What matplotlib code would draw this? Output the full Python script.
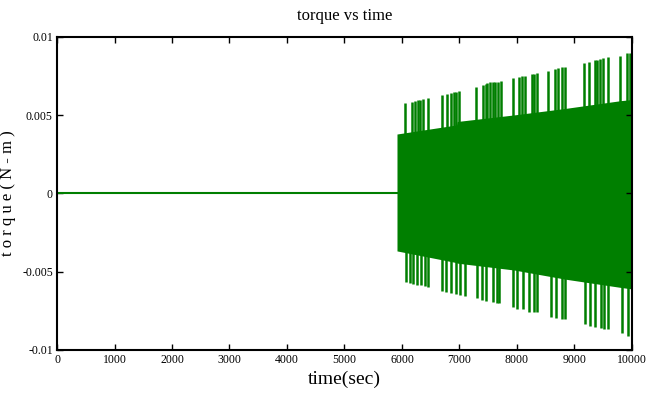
import matplotlib
matplotlib.use("Agg")
import matplotlib.pyplot as plt
import numpy as np

plt.rcParams['font.family'] = ['Liberation Serif', 'DejaVu Serif']

green = '#007f00'

# flat part before the disturbance
flat_t = [0, 5913]
flat_v = [0, 0]

# inner band of the oscillation
band_t  = [5913, 6950, 6960, 7950, 8850, 9800, 10000]
band_hi = [0.0038, 0.00438, 0.0046, 0.00502, 0.00544, 0.00593, 0.0060]
band_lo = [-0.00367, -0.00442, -0.00445, -0.00489, -0.00548, -0.00600, -0.00610]

# upper spikes: time, peak
up_t = [6052, 6174, 6226, 6270, 6313, 6365, 6452, 6696, 6783, 6852, 6900, 6939, 6991,
        7287, 7409, 7461, 7478, 7530, 7580, 7617, 7670, 7722, 7930, 8035, 8090, 8139,
        8261, 8300, 8348, 8539, 8661, 8720, 8783, 8835, 9165, 9252, 9357, 9400, 9443,
        9496, 9583, 9791, 9913, 9960, 10000]
up_v = [0.00576, 0.00587, 0.00593, 0.00595, 0.00597, 0.00604, 0.00608, 0.00629, 0.00636,
        0.00644, 0.00648, 0.00651, 0.00657, 0.00683, 0.00693, 0.00700, 0.00708, 0.00710,
        0.00713, 0.00715, 0.00715, 0.00718, 0.00736, 0.00746, 0.00750, 0.00753, 0.00764,
        0.00766, 0.00768, 0.00781, 0.00794, 0.00800, 0.00806, 0.00810, 0.00836, 0.00842,
        0.00853, 0.00855, 0.00857, 0.00864, 0.00870, 0.00881, 0.00896, 0.00898, 0.00900]

# lower spikes: time, trough
dn_t = [6070, 6139, 6197, 6256, 6325, 6400, 6457, 6690, 6760, 6847, 6939, 7009, 7096,
        7299, 7386, 7461, 7577, 7647, 7692, 7936, 8005, 8110, 8214, 8296, 8343, 8586,
        8678, 8777, 8835, 9183, 9270, 9357, 9456, 9513, 9588, 9821, 9936]
dn_v = [-0.00563, -0.00570, -0.00578, -0.00585, -0.00585, -0.00591, -0.00600, -0.00621,
        -0.00627, -0.00638, -0.00642, -0.00649, -0.00655, -0.00670, -0.00681, -0.00685,
        -0.00693, -0.00698, -0.00702, -0.00727, -0.00736, -0.00740, -0.00755, -0.00759,
        -0.00759, -0.00787, -0.00798, -0.00804, -0.00804, -0.00836, -0.00845, -0.00851,
        -0.00862, -0.00866, -0.00866, -0.00893, -0.00909]

xticks = [0, 1000, 2000, 3000, 4000, 5000, 6000, 7000, 8000, 9000, 10000]
yticks = [-0.01, -0.005, 0, 0.005, 0.01]
ytick_labels = ['-0.01', '-0.005', '0', '0.005', '0.01']

fig = plt.figure(figsize=(6.59, 3.96), dpi=100)
ax = fig.add_axes([0.0865, 0.1162, 0.8725, 0.7904])

ax.plot(flat_t, flat_v, color=green, lw=1.5)
ax.fill_between(band_t, band_lo, band_hi, color=green, lw=0)
ax.vlines(up_t, np.interp(up_t, band_t, band_hi) - 0.0005, up_v, color=green, lw=1.8)
ax.vlines(dn_t, np.interp(dn_t, band_t, band_lo) + 0.0005, dn_v, color=green, lw=1.8)

ax.set_xlim(0, 10000)
ax.set_ylim(-0.01, 0.01)
ax.set_xticks(xticks)
ax.set_xticklabels([str(v) for v in xticks], fontsize=8.5)
ax.set_yticks(yticks)
ax.set_yticklabels(ytick_labels, fontsize=8.5)
ax.tick_params(direction='in', top=True, right=True, length=4, width=1, pad=3)
for s in ax.spines.values():
    s.set_linewidth(1.5)

ax.set_title('torque vs time', fontsize=12, pad=12)
ax.set_xlabel('time(sec)', fontsize=14, labelpad=3)
ax.set_ylabel('t o r q u e ( N - m )', fontsize=12)
ax.yaxis.set_label_coords(-0.072, 0.5)

fig.savefig('out.png', dpi=100)
